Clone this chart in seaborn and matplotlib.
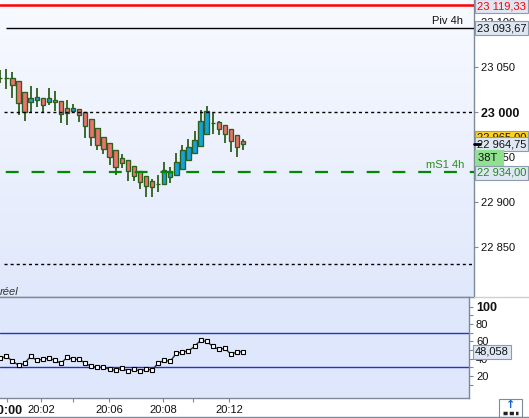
import numpy as np
import matplotlib
matplotlib.use('Agg')
import matplotlib.pyplot as plt
import seaborn as sns
from matplotlib.lines import Line2D
from matplotlib.patches import Rectangle

# candle data (38 tick bars)
opens = [23038, 23038, 23037.8, 23034.4, 23022.2, 23011.1, 23013.3, 23015.6, 23011.1, 23013.3,
         23012.2, 23004.4, 23001.1, 23003.3, 23000.0, 22992.2, 22982.2, 22972.2, 22965.6, 22957.8,
         22948.9, 22946.7, 22940.0, 22934.4, 22928.9, 22923.3, 22920.7, 22920.0, 22927.8, 22930.0,
         22936.7, 22946.7, 22954.4, 22962.2, 22975.6, 22988.4, 22988.9, 22985.6, 22981.1, 22974.4,
         22967.8]
highs = [23047, 23047.8, 23044.8, 23034.4, 23022.2, 23029.2, 23027.0, 23015.6, 23027.0, 23023.3,
         23012.2, 23013.3, 23008.9, 23003.3, 23000.0, 22992.2, 22982.2, 22972.2, 22965.6, 22957.8,
         22953.3, 22946.7, 22940.0, 22934.4, 22928.9, 22925.6, 22930.0, 22944.4, 22938.9, 22954.4,
         22963.3, 22970.0, 22978.9, 23002.2, 23006.7, 22998.9, 22990.0, 22985.6, 22981.1, 22974.4,
         22970.0]
lows = [23033, 23026.2, 23015.6, 22997.0, 22990.7, 23000.0, 23005.6, 23000.0, 23007.8, 23001.1,
        22987.8, 22985.6, 22998.9, 22989.6, 22971.8, 22962.9, 22958.4, 22954.0, 22941.8, 22930.7,
        22938.0, 22924.0, 22924.0, 22915.1, 22906.2, 22906.2, 22911.8, 22920.0, 22921.1, 22930.0,
        22936.7, 22946.7, 22954.4, 22962.2, 22975.6, 22975.6, 22974.4, 22965.6, 22955.6, 22950.7,
        22957.8]
closes = [23037.6, 23038, 23030.0, 23010.0, 23000.0, 23015.6, 23016.7, 23007.8, 23015.6, 23011.1,
          22997.8, 22998.9, 23004.4, 22996.7, 22984.4, 22972.2, 22963.3, 22958.9, 22950.0, 22939.6,
          22943.3, 22934.4, 22928.9, 22922.2, 22917.8, 22916.7, 22920.7, 22935.6, 22933.3, 22944.4,
          22957.8, 22961.1, 22968.9, 22990.0, 23001.1, 22988.4, 22981.1, 22975.6, 22967.8, 22961.1,
          22964.75]

rsi = [40.4, 42.7, 37.3, 32.3, 34.6, 42.7, 38.1, 39.2, 40.4, 38.1,
       34.6, 41.5, 39.2, 39.2, 34.6, 31.1, 30.0, 30.0, 27.7, 26.5,
       28.8, 25.8, 27.7, 25.8, 27.7, 26.9, 34.6, 38.1, 36.9, 46.1,
       47.6, 48.8, 54.2, 61.1, 59.9, 54.2, 50.7, 51.9, 45.0, 47.6,
       48.058]

time_pos = [1.1, 6.7, 12.0, 17.9, 26.8, 31.7, 37.7]
time_labels = ['20:00', '20:02', '', '20:06', '20:08', '', '20:12']

price_ticks = [22850, 22900, 22950, 23000, 23050, 23100]
price_labels = ['22 850', '22 900', '22 950', '23 000', '23 050', '23 100']
rsi_ticks = [20, 40, 60, 80, 100]

r1, piv, ms1 = 23119.33, 23093.67, 22934.00
dash_top, dash_low = 23000, 22831.4
last_price = 22964.75

RED_FILL = '#ec736d'
BLUE_FILL = '#12a3dc'
EDGE = '#2c5f1c'
AXIS_GRAY = '#7d8b98'

sns.set_style('white')
plt.rcParams['font.family'] = ['Liberation Sans', 'DejaVu Sans']
plt.rcParams['font.size'] = 8

fig = plt.figure(figsize=(5.29, 4.18), dpi=100, facecolor='white')
ax = fig.add_axes([0, 121 / 418, 474 / 529, 297 / 418])
ax2 = fig.add_axes([0, 20 / 418, 469 / 529, 101 / 418])

# background gradient main panel
grad = np.linspace(0, 1, 256).reshape(-1, 1)
cmap = matplotlib.colors.LinearSegmentedColormap.from_list('bg', ['#f8faff', '#e0e8fb'])
ax.imshow(grad, aspect='auto', cmap=cmap, extent=[0, 1, 0, 1], transform=ax.transAxes, zorder=0)
ax2.set_facecolor('#dee7fc')

idx = np.arange(len(opens))
o = np.array(opens); c = np.array(closes)
up = c > o
ax.vlines(idx, lows, highs, color=EDGE, lw=1.3, zorder=3)
body_lo = np.minimum(o, c)
body_h = np.abs(c - o)
colors = [BLUE_FILL if u else RED_FILL for u in up]
ax.bar(idx, body_h, bottom=body_lo, width=0.72, color=colors, edgecolor=EDGE, lw=0.95, zorder=4)

# levels
ax.axhline(r1, color='#ff0000', lw=1.8, zorder=5)
ax.hlines(piv, 0.95, 78.04, color='black', lw=1.0, zorder=5)
ax.axhline(dash_top, color='black', lw=1.0, ls=(0, (2.2, 2.2)), xmin=4 / 474, zorder=5)
ax.axhline(dash_low, color='black', lw=1.0, ls=(0, (2.2, 2.2)), xmin=4 / 474, zorder=5)
ax.axhline(ms1, color='#008a00', lw=1.6, ls=(9.0, (5.8, 5.8)), zorder=5)

ax.text(76.2, r1 + 4.5, 'R1 4h', color='red', ha='right', va='bottom', fontsize=8)
ax.text(76.2, piv + 2.0, 'Piv 4h', color='#111111', ha='right', va='bottom', fontsize=8)
ax.text(76.5, ms1 + 2.0, 'mS1 4h', color='#2e8b22', ha='right', va='bottom', fontsize=8)
ax.text(-0.05, 22800.5, 'réel', color='#333333', ha='left', va='center', style='italic', fontsize=8)

ax.set_xlim(-0.05, 78.04)
ax.set_ylim(22794.8, 23124.8)
ax.set_xticks([])
ax.yaxis.tick_right()
ax.set_yticks(price_ticks, price_labels)
ax.tick_params(axis='y', right=True, length=3, width=0.8, color=AXIS_GRAY, pad=2, labelsize=8,
               labelcolor='#111111')
for lab in ax.get_yticklabels():
    if lab.get_text() == '23 000':
        lab.set_fontweight('bold')
        lab.set_fontsize(9)
for s in ['top', 'left']:
    ax.spines[s].set_visible(False)
for s in ['right', 'bottom']:
    ax.spines[s].set_color(AXIS_GRAY)
    ax.spines[s].set_linewidth(1.0)

# price boxes on the axis
ytr = ax.get_yaxis_transform()
box = dict(boxstyle='square,pad=0.18', fc='#dfe7f3', ec='#8d9cac', lw=0.8)
ax.text(1.006, r1 - 1.5, '23 119,33', transform=ytr, color='red', va='center', ha='left', bbox=box, clip_on=False, zorder=10)
ax.text(1.006, piv, '23 093,67', transform=ytr, color='#111111', va='center', ha='left', bbox=box, clip_on=False, zorder=10)
ax.text(1.006, 22972.0, '22 965,00', transform=ytr, color='#111111', va='center', ha='left',
        bbox=dict(boxstyle='square,pad=0.18', fc='#ffd21a', ec='#8d9cac', lw=0.8), clip_on=False, zorder=10)
ax.text(1.006, last_price, '22 964,75', transform=ytr, color='#111111', va='center', ha='left', bbox=box, clip_on=False, zorder=11)
ax.plot([1.0, 1.012], [last_price, last_price], transform=ytr, color='black', lw=2, clip_on=False, zorder=12)
ax.text(1.008, 22949.5, '38T ', transform=ytr, color='#111111', va='center', ha='left',
        bbox=dict(boxstyle='square,pad=0.25', fc='#8fe08f', ec='#8fe08f', lw=0.8), clip_on=False, zorder=11)
ax.text(1.006, ms1 - 1.0, '22 934,00', transform=ytr, color='#1e8a1e', va='center', ha='left', bbox=box, clip_on=False, zorder=11)

# RSI panel
ax2.axhline(70, color='#2233cc', lw=1.0, zorder=2)
ax2.axhline(30, color='#2233cc', lw=1.0, zorder=2)
sns.lineplot(x=idx, y=rsi, ax=ax2, color='#333333', lw=1.0, marker='s', markersize=2.6,
             markerfacecolor='white', markeredgecolor='black', markeredgewidth=0.8, zorder=3)
ax2.set_xlim(-0.05, 77.22)
ax2.set_ylim(-5.4, 111.1)
ax2.yaxis.tick_right()
ax2.set_yticks(rsi_ticks, [str(t) for t in rsi_ticks])
ax2.set_yticks([10, 30, 50, 70, 90], minor=True)
ax2.tick_params(axis='y', which='both', right=True, length=3, width=0.8, color=AXIS_GRAY, pad=2,
                labelsize=8, labelcolor='#111111')
for lab in ax2.get_yticklabels():
    if lab.get_text() == '100':
        lab.set_fontweight('bold')
        lab.set_fontsize(9)
ax2.set_xticks(time_pos, time_labels)
ax2.tick_params(axis='x', bottom=True, length=3, width=0.8, color=AXIS_GRAY, pad=2, labelsize=8,
                labelcolor='#111111')
ax2.get_xticklabels()[0].set_fontweight('bold')
ax2.get_xticklabels()[0].set_fontsize(9)
ax2.spines['left'].set_visible(False)
for s in ['top', 'right', 'bottom']:
    ax2.spines[s].set_color(AXIS_GRAY)
    ax2.spines[s].set_linewidth(1.0)
ax2.set_xlabel('')
ax2.set_ylabel('')
ytr2 = ax2.get_yaxis_transform()
ax2.text(1.012, rsi[-1], '48,058', transform=ytr2, color='#111111', va='center', ha='left',
         bbox=box, clip_on=False, zorder=10)

# separators and the little button
fig.add_artist(Line2D([474 / 529, 1], [121 / 418, 121 / 418], color='#cfcfcf', lw=1))
fig.add_artist(Line2D([0, 1], [1.5 / 418, 1.5 / 418], color=AXIS_GRAY, lw=1))
fig.add_artist(Rectangle((499 / 529, 1.5 / 418), 23 / 529, 18 / 418, fc='white', ec=AXIS_GRAY, lw=0.8))
fig.text(510.5 / 529, 13 / 418, '↑', color='#1060d0', ha='center', va='center', fontsize=8,
         fontweight='bold', family='DejaVu Sans')
fig.add_artist(Line2D([503 / 529, 518 / 529], [5.5 / 418, 5.5 / 418], color='#222222', lw=2.5,
                      ls=(0, (1.2, 0.6))))

fig.savefig('out.png', dpi=100)
